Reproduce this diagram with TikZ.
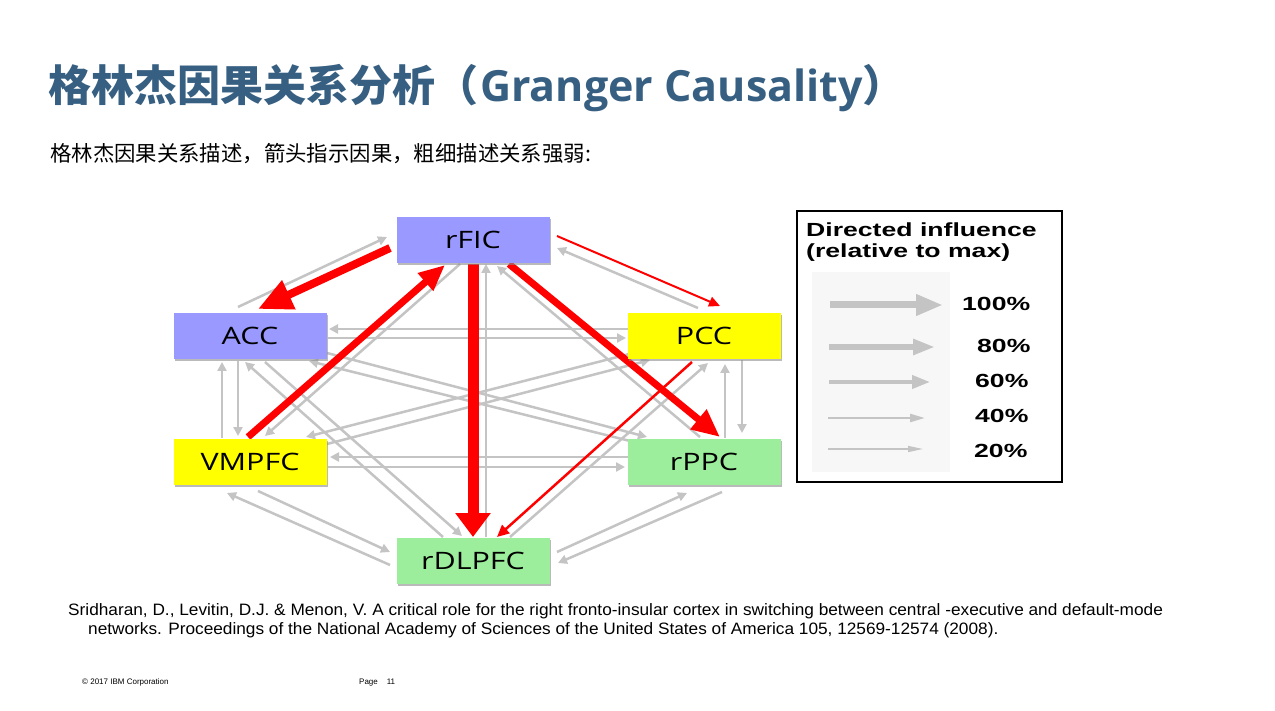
\documentclass[tikz,border=0pt]{standalone}
\usepackage{fontspec}
\setmainfont{Liberation Sans}
\newfontfamily\cjk{Noto Sans CJK SC}
\newfontfamily\osans{Open Sans}
\usetikzlibrary{arrows.meta,calc,shadows}
\definecolor{titleblue}{HTML}{365F82}
\definecolor{lav}{HTML}{9999FF}
\definecolor{yel}{HTML}{FFFF00}
\definecolor{grn}{HTML}{9CEE9C}
\definecolor{lg}{HTML}{C4C4C4}
\definecolor{rd}{HTML}{FF0000}
\pgfdeclarelayer{bg}
\pgfdeclarelayer{edges}
\pgfsetlayers{bg,edges,main}
\begin{document}
\begin{tikzpicture}[x=1pt,y=-1pt,
  region/.style={draw=none, minimum width=153pt, minimum height=46pt, inner sep=0pt,
    font=\osans\fontsize{24}{28}\selectfont,
    drop shadow={shadow xshift=1.5pt, shadow yshift=-2pt, fill=black!45, opacity=0.6}},
  gl/.style={draw=lg, line width=2.5pt, -{Triangle[length=9pt,width=9pt]}},
  rl/.style={draw=rd},
  lgarrow/.style={draw=lg},
  txt/.style={inner sep=0pt, anchor=base west}
]
\useasboundingbox (0,0) rectangle (1275,711);
\begin{pgfonlayer}{bg}
\fill[white] (0,0) rectangle (1275,711);
\end{pgfonlayer}

% title and subtitle
\node[txt, text=titleblue] (title) at (48,102)
  {{\cjk\bfseries\fontsize{43}{50}\selectfont 格林杰因果关系分析（}\hspace{2pt}{\osans\bfseries\fontsize{43}{50}\selectfont Granger Causality}{\cjk\bfseries\fontsize{43}{50}\selectfont ）}};
\node[txt, font=\cjk\fontsize{21.4}{26}\selectfont] (sub) at (50,162)
  {格林杰因果关系描述，箭头指示因果，粗细描述关系强弱:};

% regions
\node[region, fill=lav] (rfic) at (473,240) {\scalebox{1.27}[1]{rFIC}};
\node[region, fill=lav] (acc) at (250,336) {\scalebox{1.27}[1]{ACC}};
\node[region, fill=yel] (pcc) at (704,336) {\scalebox{1.27}[1]{PCC}};
\node[region, fill=yel] (vmpfc) at (250,462) {\scalebox{1.27}[1]{VMPFC}};
\node[region, fill=grn] (rppc) at (704,462) {\scalebox{1.27}[1]{rPPC}};
\node[region, fill=grn] (rdlpfc) at (473,561) {\scalebox{1.27}[1]{rDLPFC}};

\begin{pgfonlayer}{edges}
% gray connectors
\draw[gl] ($(acc)+(-12,-29)$) -- ($(rfic)+(-86,-3)$);
\draw[gl] ($(pcc)+(-6,-28)$) -- ($(rfic)+(84,8)$);
\draw[gl] ($(rfic)+(-13,24)$) -- ($(vmpfc)+(15,-26)$);
\draw[gl] ($(rdlpfc)+(13,-24)$) -- ($(rfic)+(13,24)$);
\draw[gl] ($(rppc)+(-4,-25)$) -- ($(rfic)+(24,26)$);
\draw[gl] ($(rdlpfc)+(37,-24)$) -- ($(pcc)+(4,27)$);
\draw[gl] ($(pcc)+(-76,-7)$) -- ($(acc)+(79,-7)$);
\draw[gl] ($(acc)+(78,2)$) -- ($(pcc)+(-78,2)$);
\draw[gl] ($(vmpfc)+(-28,-24)$) -- ($(acc)+(-28,26)$);
\draw[gl] ($(acc)+(-12,25)$) -- ($(vmpfc)+(-12,-26)$);
\draw[gl] ($(acc)+(77,17)$) -- ($(rppc)+(-57,-25)$);
\draw[gl] ($(rppc)+(-74,-21)$) -- ($(acc)+(59,25)$);
\draw[gl] ($(pcc)+(-71,17)$) -- ($(vmpfc)+(56,-25)$);
\draw[gl] ($(vmpfc)+(77,-18)$) -- ($(pcc)+(-54,24)$);
\draw[gl] ($(rdlpfc)+(-30,-24)$) -- ($(acc)+(-5,26)$);
\draw[gl] ($(acc)+(15,26)$) -- ($(rdlpfc)+(-11,-25)$);
\draw[gl] ($(vmpfc)+(78,5)$) -- ($(rppc)+(-79,5)$);
\draw[gl] ($(rppc)+(-76,-5)$) -- ($(vmpfc)+(80,-5)$);
\draw[gl] ($(rppc)+(21,-24)$) -- ($(pcc)+(21,28)$);
\draw[gl] ($(pcc)+(38,24)$) -- ($(rppc)+(38,-29)$);
\draw[gl] ($(vmpfc)+(8,29)$) -- ($(rdlpfc)+(-83,-9)$);
\draw[gl] ($(rdlpfc)+(-83,4)$) -- ($(vmpfc)+(-23,31)$);
\draw[gl] ($(rdlpfc)+(84,-9)$) -- ($(rppc)+(-17,31)$);
\draw[gl] ($(rppc)+(18,30)$) -- ($(rdlpfc)+(85,2)$);
% red connectors
\draw[rl, line width=8pt, -{Triangle[length=34pt,width=30pt]}] ($(rfic)+(-83,8)$) -- ($(acc)+(8,-27)$);
\draw[rl, line width=7pt, -{Triangle[length=26pt,width=22pt]}] ($(vmpfc)+(-2,-25)$) -- ($(rfic)+(-28,25)$);
\draw[rl, line width=11pt, -{Triangle[length=24pt,width=34pt]}] ($(rfic)+(0,24)$) -- ($(rdlpfc)+(0,-24)$);
\draw[rl, line width=7pt, -{Triangle[length=28pt,width=24pt]}] ($(rfic)+(36,24)$) -- ($(rppc)+(16,-25)$);
\draw[rl, line width=2pt, -{Triangle[length=11pt,width=10pt]}] ($(rfic)+(84,-4)$) -- ($(pcc)+(16,-30)$);
\draw[rl, line width=2.5pt, -{Triangle[length=12pt,width=11pt]}] ($(pcc)+(-12,26)$) -- ($(rdlpfc)+(24,-24)$);
\end{pgfonlayer}

% legend
\draw[line width=1.5pt, black] (797,211) rectangle (1062,482);
\fill[black!3] (812,272) rectangle (950,472);
\node[txt, font=\bfseries\fontsize{19}{22}\selectfont] (lg1) at (806,237) {\scalebox{1.4}[1]{Directed influence}};
\node[txt, font=\bfseries\fontsize{19}{22}\selectfont] (lg2) at (806,258) {\scalebox{1.4}[1]{(relative to max)}};
\draw[lgarrow, line width=7pt, -{Triangle[length=27pt,width=20pt]}] (830,305) -- (943,305);
\draw[lgarrow, line width=5.5pt, -{Triangle[length=22pt,width=15pt]}] (829,347) -- (935,347);
\draw[lgarrow, line width=4pt, -{Triangle[length=18pt,width=13pt]}] (829,382) -- (930,382);
\draw[lgarrow, line width=2.5pt, -{Triangle[length=15pt,width=8pt]}] (828,418) -- (925,418);
\draw[lgarrow, line width=1.5pt, -{Triangle[length=15pt,width=6pt]}] (828,449) -- (923,449);
\node[txt, font=\bfseries\fontsize{19}{22}\selectfont] (p100) at (962,311) {\scalebox{1.4}[1]{100\%}};
\node[txt, font=\bfseries\fontsize{19}{22}\selectfont] (p80) at (977,353) {\scalebox{1.4}[1]{80\%}};
\node[txt, font=\bfseries\fontsize{19}{22}\selectfont] (p60) at (975,388) {\scalebox{1.4}[1]{60\%}};
\node[txt, font=\bfseries\fontsize{19}{22}\selectfont] (p40) at (975,422) {\scalebox{1.4}[1]{40\%}};
\node[txt, font=\bfseries\fontsize{19}{22}\selectfont] (p20) at (974,457) {\scalebox{1.4}[1]{20\%}};

% reference
\node[txt, font=\fontsize{16.5}{19}\selectfont] (ref1) at (68,615)
  {\scalebox{1.045}[1]{Sridharan, D., Levitin, D.J. \& Menon, V. A critical role for the right fronto-insular cortex in switching between central -executive and default-mode}};
\node[txt, font=\fontsize{16.5}{19}\selectfont] (ref2) at (88,634)
  {\scalebox{1.045}[1]{networks. Proceedings of the National Academy of Sciences of the United States of America 105, 12569-12574 (2008).}};

% footer
\node[txt, font=\fontsize{8}{9}\selectfont] (copy) at (82,684) {\textcopyright\ 2017 IBM Corporation};
\node[txt, font=\fontsize{8}{9}\selectfont] (page) at (359,684) {Page\hspace{9pt}11};
\end{tikzpicture}
\end{document}
